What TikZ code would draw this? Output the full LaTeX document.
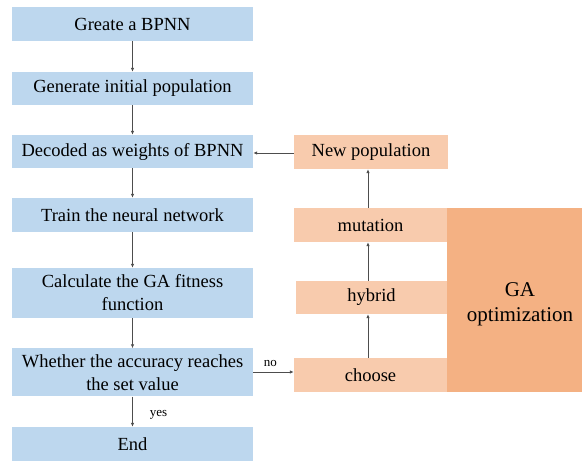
\documentclass[tikz,border=0pt]{standalone}
\usepackage{fontspec}
\setmainfont{Liberation Serif}
\usetikzlibrary{arrows.meta}
\definecolor{stepblue}{HTML}{BDD7EE}
\definecolor{gapale}{HTML}{F8CBAD}
\definecolor{gadeep}{HTML}{F4B183}
\definecolor{linkgray}{HTML}{4D4D4D}
\tikzset{
  bluebox/.style={fill=stepblue, draw=none, inner sep=0pt, minimum width=241pt,
    align=center, font=\fontsize{18.5}{23}\selectfont},
  orangebox/.style={fill=gapale, draw=none, inner sep=0pt, minimum width=153pt,
    minimum height=34pt, align=center, font=\fontsize{18.5}{23}\selectfont},
  link/.style={draw=linkgray, line width=0.8pt, -{Latex[length=4pt,width=3.5pt]}},
  smalllabel/.style={font=\fontsize{13}{15}\selectfont, inner sep=0pt}
}
\begin{document}
\begin{tikzpicture}[x=1pt,y=-1pt]
\useasboundingbox (0,0) rectangle (582,462);

% main BPNN flow
\node[bluebox, minimum height=34pt] (create) at (132.5,24) {Greate a BPNN};
\node[bluebox, minimum height=33pt] (init)   at (132.5,88.5) {Generate initial population};
\node[bluebox, minimum height=33pt] (decode) at (132.5,151.5) {Decoded as weights of BPNN};
\node[bluebox, minimum height=34pt] (train)  at (132.5,215) {Train the neural network};
\node[bluebox, minimum height=50pt] (fit)    at (132.5,293) {Calculate the GA fitness\\function};
\node[bluebox, minimum height=48pt] (check)  at (132.5,372.5) {Whether the accuracy reaches\\the set value};
\node[bluebox, minimum height=34pt] (stop)   at (132.5,444) {End};

% GA block
\node[fill=gadeep, draw=none, inner sep=0pt, minimum width=135pt, minimum height=184pt] (ga) at (514.5,300) {};
\node[align=center, inner sep=0pt, font=\fontsize{21}{25}\selectfont] (galabel) at (520,304) {GA\\optimization};
\node[orangebox, minimum width=154pt] (newpop) at (371,152) {New population};
\node[orangebox] (mut)    at (370.5,225) {mutation};
\node[orangebox, minimum width=151pt, minimum height=33pt] (hyb) at (371.5,297.5) {hybrid};
\node[orangebox] (choose) at (370.5,375) {choose};

% connectors
\draw[link] (create) -- (init);
\draw[link] (init) -- (decode);
\draw[link] (decode) -- (train);
\draw[link] (train) -- (fit);
\draw[link] (fit) -- (check);
\draw[link] (check) -- node[smalllabel, right=17pt, pos=0.6] {yes} (stop);
\draw[link] (check.east |- 0,372) -- node[smalllabel, above=5pt, pos=0.42] {no} (choose.west |- 0,372);
\draw[link] (choose.north -| 368,0) -- (hyb.south -| 368,0);
\draw[link] (hyb.north -| 368,0) -- (mut.south -| 368,0);
\draw[link] (mut.north -| 368,0) -- (newpop.south -| 368,0);
\draw[link] (newpop.west |- 0,153) -- (decode.east |- 0,153);
\end{tikzpicture}
\end{document}
